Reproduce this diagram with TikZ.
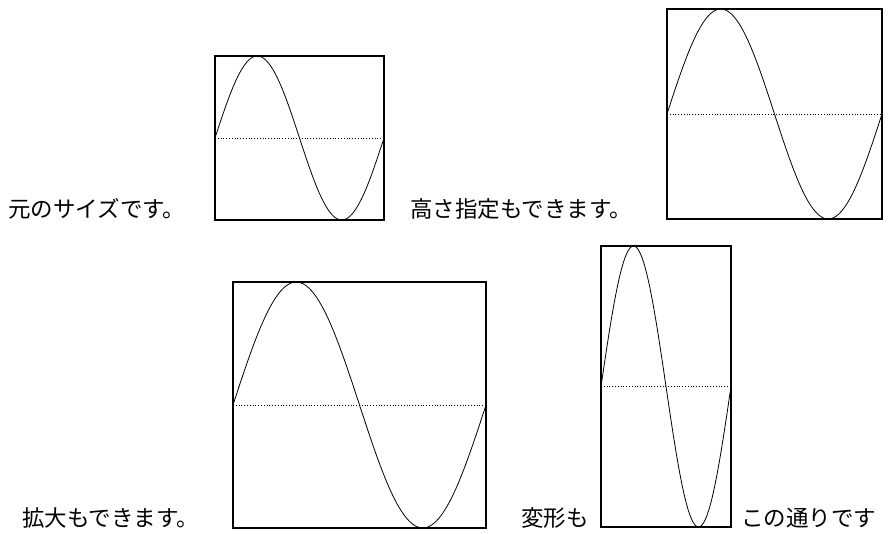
\documentclass[tikz,border=0pt]{standalone}
\usepackage{fontspec}
\newfontfamily\jpfont{Noto Sans CJK JP}
\begin{document}
\begin{tikzpicture}[x=1pt, y=-1pt,
  frame/.style={draw, line width=1.3pt},
  wave/.style={line width=0.8pt},
  axis/.style={dotted, line width=0.8pt},
  caption/.style={anchor=base west, inner sep=0pt, font=\jpfont\fontsize{22.5}{22.5}\selectfont}
]
  \useasboundingbox (0,0) rectangle (891,534);

  % Captions
  \node[caption] (orig) at (8,218) {元のサイズです。};
  \node[caption] (height) at (410,218) {高さ指定もできます。};
  \node[caption] (scaled) at (22,526) {拡大もできます。};
  \node[caption] (deformA) at (521,526) {変形も};
  \node[caption] (deformB) at (741,526) {この通りです};

  % Graphs: left/top/width/height
  \foreach \bx/\by/\bw/\bh in {215/56/169/164, 667/9/215/210, 233/282/253/246, 601/246/130/281}{
    \draw[frame] (\bx,\by) rectangle ++(\bw,\bh);
    \draw[axis] (\bx,\by+\bh/2) -- ++(\bw,0);
    \draw[wave] plot[domain=0:360, samples=91, smooth]
      ({\bx+\x/360*\bw}, {\by+\bh/2-\bh/2*sin(\x)});
  }
\end{tikzpicture}
\end{document}
